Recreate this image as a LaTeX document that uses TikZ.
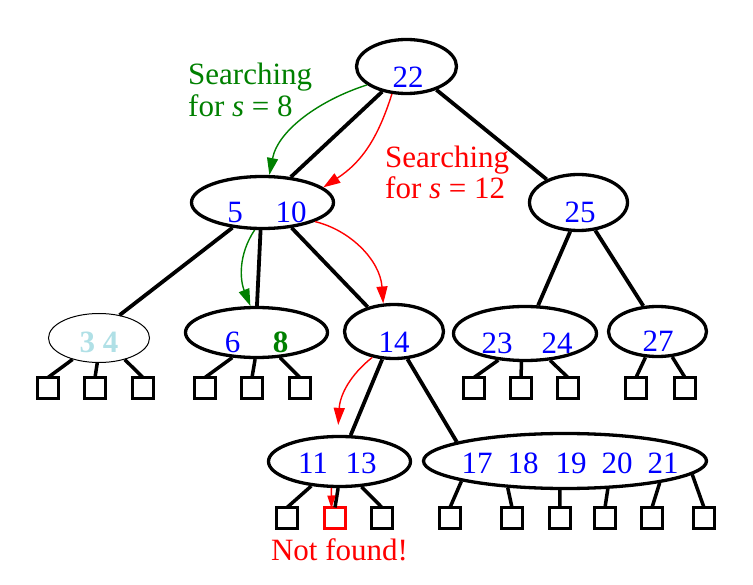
\documentclass[tikz,border=0pt]{standalone}
\usepackage{fontspec}
\setmainfont{Liberation Serif}
\usetikzlibrary{shapes.geometric,arrows.meta}
\definecolor{nblue}{RGB}{0,0,255}
\definecolor{ngreen}{RGB}{0,128,0}
\definecolor{nred}{RGB}{255,0,0}
\definecolor{pblue}{RGB}{176,224,230}
\begin{document}
\begin{tikzpicture}[x=1pt,y=-1pt,
  bnode/.style={ellipse,draw,line width=3.3pt,inner sep=0pt},
  leaf/.style={rectangle,draw,line width=3.3pt,minimum size=21pt,inner sep=0pt,outer sep=0pt},
  tedge/.style={line width=3.8pt},
  ledge/.style={line width=3.5pt},
  lbl/.style={font=\fontsize{31}{32}\selectfont,inner sep=0pt,anchor=base,text=nblue},
  note/.style={font=\fontsize{31}{32}\selectfont,inner sep=0pt,anchor=base west},
  search/.style={line width=1.4pt,-{Triangle[length=17pt,width=11pt]}},
]
\path[use as bounding box] (0,0) rectangle (753,585);

% internal nodes
\node[bnode,minimum width=100pt,minimum height=54pt] (e22) at (406.5,66.5) {};
\node[bnode,minimum width=142pt,minimum height=52pt] (e510) at (262.5,202.5) {};
\node[bnode,minimum width=98pt,minimum height=56pt] (e25) at (578.5,202.5) {};
\node[ellipse,draw,line width=1pt,inner sep=0pt,minimum width=101pt,minimum height=49pt] (e34) at (99,338) {};
\node[bnode,minimum width=142pt,minimum height=50pt] (e68) at (256.5,332.5) {};
\node[bnode,minimum width=99pt,minimum height=54pt] (e14) at (394,331.5) {};
\node[bnode,minimum width=143pt,minimum height=54pt] (e2324) at (525,333.5) {};
\node[bnode,minimum width=98pt,minimum height=50pt] (e27) at (657.5,331.5) {};
\node[bnode,minimum width=142pt,minimum height=50pt] (e1113) at (339.5,461.5) {};
\node[bnode,minimum width=283pt,minimum height=55pt] (e1721) at (565,461) {};

% labels
\node[lbl] (t22) at (408,88) {22};
\node[lbl] (t5) at (235,223) {5};
\node[lbl] (t10) at (291,223) {10};
\node[lbl] (t25) at (580,223) {25};
\node[lbl,text=pblue] (t34) at (99,353) {\textbf{3 4}};
\node[lbl] (t6) at (232.5,353) {6};
\node[lbl,text=ngreen] (t8) at (280.5,353) {\textbf{8}};
\node[lbl] (t14) at (394,353) {14};
\node[lbl] (t23) at (497,354) {23};
\node[lbl] (t24) at (557,354) {24};
\node[lbl] (t27) at (658,352) {27};
\node[lbl] (t11) at (313,473) {11};
\node[lbl] (t13) at (361,473) {13};
\node[lbl] (t17) at (477,473) {17};
\node[lbl] (t18) at (523,473) {18};
\node[lbl] (t19) at (571,473) {19};
\node[lbl] (t20) at (617,473) {20};
\node[lbl] (t21) at (663,473) {21};

% leaves
\node[leaf] (s1) at (48,388) {};
\node[leaf] (s2) at (95,388) {};
\node[leaf] (s3) at (143,388) {};
\node[leaf] (s4) at (205,388) {};
\node[leaf] (s5) at (252,388) {};
\node[leaf] (s6) at (300,388) {};
\node[leaf] (s7) at (474,388) {};
\node[leaf] (s8) at (521,388) {};
\node[leaf] (s9) at (568,388) {};
\node[leaf] (s10) at (636,388) {};
\node[leaf] (s11) at (685,388) {};
\node[leaf] (b1) at (287,518) {};
\node[leaf,draw=nred] (b2) at (335,518) {};
\node[leaf] (b3) at (382,518) {};
\node[leaf] (b4) at (450,518) {};
\node[leaf] (b5) at (512,518) {};
\node[leaf] (b6) at (560,518) {};
\node[leaf] (b7) at (605,518) {};
\node[leaf] (b8) at (652,518) {};
\node[leaf] (b9) at (704,518) {};

% tree edges
\draw[tedge] (e22.-134.5) -- (e510.42);
\draw[tedge] (e22.-38) -- (e25.144);
\draw[tedge] (e510.-140) -- (e34.48);
\draw[tedge] (e510.-94) -- (e68.89);
\draw[tedge] (e510.-41) -- (e14.137);
\draw[tedge] (e25.-106) -- (e2324.65.5);
\draw[tedge] (e25.-59) -- (e27.119);
\draw[tedge] (e14.-113) -- (e1113.67);
\draw[tedge] (e14.-64) -- (e1721.170);

% leaf edges
\draw[ledge] (e34.-141) -- (s1.north);
\draw[ledge] (e34.-94) -- (s2.north);
\draw[ledge] (e34.-40) -- (s3.north);
\draw[ledge] (e68.-134) -- (s4.north);
\draw[ledge] (e68.-93) -- (s5.north);
\draw[ledge] (e68.-47) -- (s6.north);
\draw[ledge] (e2324.-135.5) -- (s7.north);
\draw[ledge] (e2324.-97) -- (s8.north);
\draw[ledge] (e2324.-47) -- (s9.north);
\draw[ledge] (e27.-115) -- (s10.north);
\draw[ledge] (e27.-60) -- (s11.north);
\draw[ledge] (e1113.-139) -- (b1.north);
\draw[ledge] (e1113.-93) -- (b2.north);
\draw[ledge] (e1113.-49) -- (b3.north);
\draw[ledge] (e1721.-169.4) -- (b4.north);
\draw[ledge] (e1721.-155.3) -- (b5.north);
\draw[ledge] (e1721.-100.3) -- (b6.north);
\draw[ledge] (e1721.-33.4) -- (b7.north);
\draw[ledge] (e1721.-13.7) -- (b8.north);
\draw[ledge] (e1721.-6.7) -- (b9.north);

% search paths
\draw[search,ngreen] (e22.-155) .. controls (320,100) and (278,130) .. (e510.76);
\draw[search,ngreen] (e510.-106) .. controls (238,255) and (240,280) .. (e68.103);
\draw[search,nred] (e22.-118) .. controls (378,138) and (362,162) .. (e510.14);
\draw[search,nred] (e510.-20) .. controls (350,230) and (380,260) .. (e14.111);
\draw[search,nred,shorten >=10pt] (e14.-130) .. controls (350,375) and (340,395) .. (e1113.94);
\draw[search,nred,-{Triangle[length=13pt,width=8pt]}] (e1113.-107) -- ([xshift=7pt,yshift=-1pt]b2.north west);

% annotations
\node[note,text=ngreen] (g1) at (188,85) {Searching};
\node[note,text=ngreen] (g2) at (188,117) {for \textit{s} = 8};
\node[note,text=nred] (r1) at (385,168) {Searching};
\node[note,text=nred] (r2) at (385,199) {for \textit{s} = 12};
\node[note,text=nred,anchor=base] (nf) at (339.5,560) {Not found!};
\end{tikzpicture}
\end{document}
